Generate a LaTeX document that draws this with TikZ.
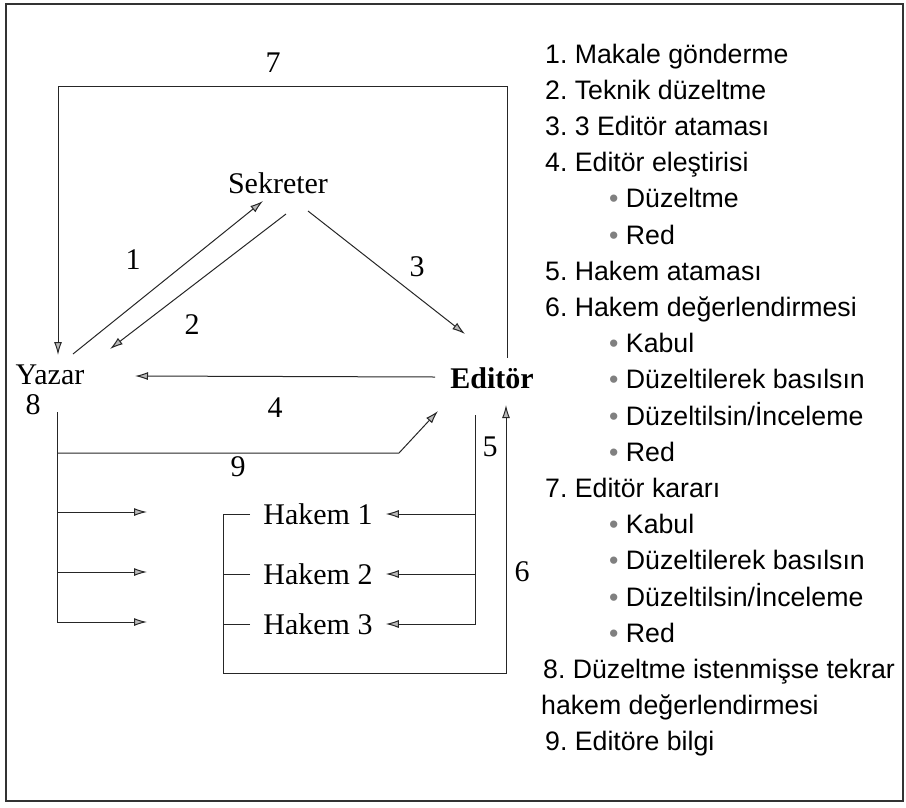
\documentclass[tikz,border=0pt]{standalone}
\usepackage{fontspec}
\setmainfont{Liberation Serif}
\newfontfamily\listfont{Liberation Sans}
\usetikzlibrary{arrows.meta}
\frenchspacing

\tikzset{
  link/.style={draw, black!85, line width=1pt},
  flow/.style={link, -{Latex[length=13pt,width=8pt,fill=gray!55]}},
  actor/.style={inner sep=0pt, font=\fontsize{30}{36}\selectfont},
  referee/.style={inner xsep=13pt, inner ysep=0pt, font=\fontsize{30}{36}\selectfont},
  num/.style={inner sep=0pt, font=\fontsize{30}{36}\selectfont},
  item/.style={anchor=base west, inner sep=0pt, font=\listfont\fontsize{26.7}{32}\selectfont},
}

\begin{document}
\begin{tikzpicture}[x=1pt,y=-1pt]
\useasboundingbox (0,0) rectangle (906,807);
\draw[black!80, line width=1.6pt] (6,4) rectangle (903,801);

\node[actor] (sek) at (278,183) {Sekreter};
\node[actor] (yaz) at (50,375) {Yazar};
\node[actor, font=\fontsize{30}{36}\selectfont\bfseries] (edi) at (492,378) {Editör};
\node[referee] (h1) at (318,514) {Hakem 1};
\node[referee] (h2) at (318,574) {Hakem 2};
\node[referee] (h3) at (318,624) {Hakem 3};

\node[num] (n1) at (133,260) {1};
\node[num] (n2) at (192,325) {2};
\node[num] (n3) at (417,267) {3};
\node[num] (n4) at (275,408) {4};
\node[num] (n5) at (490,447) {5};
\node[num] (n6) at (522,572) {6};
\node[num] (n7) at (273,63) {7};
\node[num] (n8) at (33,405) {8};
\node[num] (n9) at (238,467) {9};

\coordinate (y7) at (58,355);
\coordinate (y1) at (73,354);
\coordinate (y2) at (110,349);
\coordinate (y4) at (135,376);
\coordinate (y8) at (57,412);
\coordinate (s1) at (263,201);
\coordinate (s2) at (286,214);
\coordinate (s3) at (308,211);
\coordinate (e3) at (465,334);
\coordinate (e4) at (435,377);
\coordinate (e5) at (475,415);
\coordinate (e6) at (506,405);
\coordinate (e7) at (507,358);
\coordinate (e9) at (438,411);
\coordinate (k7) at (58,86);
\coordinate (k9) at (399,453);
\coordinate (b6) at (223,673);
\coordinate (t1) at (147,512);
\coordinate (t2) at (147,572);
\coordinate (t3) at (147,622);

\path[flow] (y1) -- (s1);
\path[flow] (s2) -- (y2);
\path[flow] (s3) -- (e3);
\path[flow] (e4) -- (y4);
\path[flow, {Latex[length=13pt,width=8pt,fill=gray!55]}-] (y7) -- (k7) -| (e7);

\path[flow] (y8) |- (t3);
\path[flow] (y8 |- t1) -- (t1);
\path[flow] (y8 |- t2) -- (t2);
\path[flow] (y8 |- k9) -- (k9) -- (e9);

\path[flow] (e5) |- (h3.east);
\path[flow] (e5 |- h1.east) -- (h1.east);
\path[flow] (e5 |- h2.east) -- (h2.east);

\path[flow] (h1.west) -| (b6) -| (e6);
\path[link] (h2.west) -- (h2.west -| b6);
\path[link] (h3.west) -- (h3.west -| b6);

\node[item] (l1) at (545,63) {1. Makale gönderme};
\node[item] (l2) at (545,99.2) {2. Teknik düzeltme};
\node[item] (l3) at (545,135.4) {3. 3 Editör ataması};
\node[item] (l4) at (545,171.6) {4. Editör eleştirisi};
\node[item] (l5) at (609,207.8) {\textcolor{gray}{•} Düzeltme};
\node[item] (l6) at (609,244) {\textcolor{gray}{•} Red};
\node[item] (l7) at (545,280.2) {5. Hakem ataması};
\node[item] (l8) at (545,316.4) {6. Hakem değerlendirmesi};
\node[item] (l9) at (609,352.6) {\textcolor{gray}{•} Kabul};
\node[item] (l10) at (609,388.8) {\textcolor{gray}{•} Düzeltilerek basılsın};
\node[item] (l11) at (609,425) {\textcolor{gray}{•} Düzeltilsin/İnceleme};
\node[item] (l12) at (609,461.2) {\textcolor{gray}{•} Red};
\node[item] (l13) at (545,497.4) {7. Editör kararı};
\node[item] (l14) at (609,533.6) {\textcolor{gray}{•} Kabul};
\node[item] (l15) at (609,569.8) {\textcolor{gray}{•} Düzeltilerek basılsın};
\node[item] (l16) at (609,606) {\textcolor{gray}{•} Düzeltilsin/İnceleme};
\node[item] (l17) at (609,642.2) {\textcolor{gray}{•} Red};
\node[item] (l18) at (543,678.4) {8. Düzeltme istenmişse tekrar};
\node[item] (l19) at (541,714.6) {hakem değerlendirmesi};
\node[item] (l20) at (545,750.8) {9. Editöre bilgi};
\end{tikzpicture}
\end{document}
